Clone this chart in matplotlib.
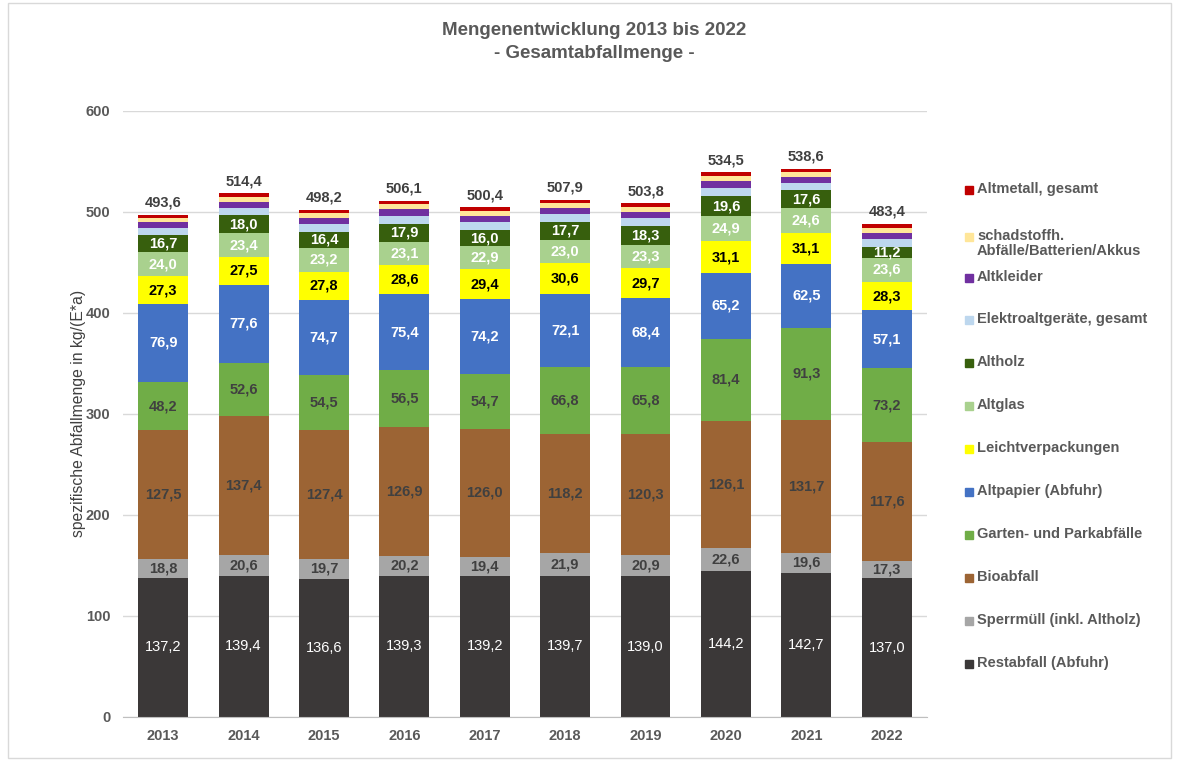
import matplotlib.pyplot as plt
import numpy as np
from matplotlib.patches import Rectangle

plt.rcParams['font.family'] = ['Liberation Sans', 'DejaVu Sans']

years = ["2013", "2014", "2015", "2016", "2017", "2018", "2019", "2020", "2021", "2022"]

restabfall = [137.2, 139.4, 136.6, 139.3, 139.2, 139.7, 139.0, 144.2, 142.7, 137.0]
sperrmuell = [18.8, 20.6, 19.7, 20.2, 19.4, 21.9, 20.9, 22.6, 19.6, 17.3]
bioabfall = [127.5, 137.4, 127.4, 126.9, 126.0, 118.2, 120.3, 126.1, 131.7, 117.6]
garten = [48.2, 52.6, 54.5, 56.5, 54.7, 66.8, 65.8, 81.4, 91.3, 73.2]
altpapier = [76.9, 77.6, 74.7, 75.4, 74.2, 72.1, 68.4, 65.2, 62.5, 57.1]
lvp = [27.3, 27.5, 27.8, 28.6, 29.4, 30.6, 29.7, 31.1, 31.1, 28.3]
altglas = [24.0, 23.4, 23.2, 23.1, 22.9, 23.0, 23.3, 24.9, 24.6, 23.6]
altholz = [16.7, 18.0, 16.4, 17.9, 16.0, 17.7, 18.3, 19.6, 17.6, 11.2]
# small segments without labels
elektro = [7.0, 7.3, 7.4, 8.0, 7.5, 7.6, 8.0, 8.5, 7.4, 7.5]
altkleider = [5.8, 6.0, 6.0, 6.3, 6.5, 6.1, 6.0, 6.3, 5.8, 6.5]
schadstoff = [4.2, 4.5, 4.6, 4.9, 5.0, 4.7, 5.0, 5.0, 4.5, 4.8]
altmetall = [3.4, 3.7, 3.7, 3.5, 3.5, 3.5, 3.5, 4.0, 3.5, 3.7]
totals = [493.6, 514.4, 498.2, 506.1, 500.4, 507.9, 503.8, 534.5, 538.6, 483.4]

# name, values, colour, label colour, label weight
series = [
    ("Restabfall (Abfuhr)", restabfall, "#3b3838", "white", "normal"),
    ("Sperrmüll (inkl. Altholz)", sperrmuell, "#a6a6a6", "#404040", "bold"),
    ("Bioabfall", bioabfall, "#9c6434", "#404040", "bold"),
    ("Garten- und Parkabfälle", garten, "#70ad47", "#404040", "bold"),
    ("Altpapier (Abfuhr)", altpapier, "#4472c4", "white", "bold"),
    ("Leichtverpackungen", lvp, "#ffff00", "black", "bold"),
    ("Altglas", altglas, "#a9d18e", "white", "bold"),
    ("Altholz", altholz, "#375f0d", "white", "bold"),
    ("Elektroaltgeräte, gesamt", elektro, "#bdd7ee", None, None),
    ("Altkleider", altkleider, "#7030a0", None, None),
    ("schadstoffh.\nAbfälle/Batterien/Akkus", schadstoff, "#ffe699", None, None),
    ("Altmetall, gesamt", altmetall, "#c00000", None, None),
]

grey = "#595959"
fig = plt.figure(figsize=(11.77, 7.61), dpi=100)
ax = fig.add_axes([0.1045, 0.0582, 0.683, 0.7964])

x = np.arange(len(years))
bottom = np.zeros(len(years))
for name, vals, col, tcol, tw in series:
    vals = np.array(vals)
    ax.bar(x, vals, 0.62, bottom=bottom, color=col, zorder=2)
    if tcol is not None:
        for xi, b, v in zip(x, bottom, vals):
            ax.text(xi, b + v / 2, f"{v:.1f}".replace(".", ","), ha="center", va="center",
                    color=tcol, fontsize=10.5, fontweight=tw, zorder=3)
    bottom += vals

for xi, top, t in zip(x, bottom, totals):
    ax.text(xi, top + 5, f"{t:.1f}".replace(".", ","), ha="center", va="bottom",
            color="#404040", fontsize=10.5, fontweight="bold")

ax.set_xlim(-0.5, len(years) - 0.5)
ax.set_ylim(0, 600)
ax.set_yticks(range(0, 601, 100))
ax.set_xticks(x)
ax.set_xticklabels(years)
ax.yaxis.grid(True, color="#d9d9d9", linewidth=1, zorder=0)
ax.set_axisbelow(True)
for s in ["top", "right", "left"]:
    ax.spines[s].set_visible(False)
ax.spines["bottom"].set_color("#bfbfbf")
ax.tick_params(length=0, labelsize=10.5, labelcolor=grey, pad=9)
for lab in ax.get_xticklabels() + ax.get_yticklabels():
    lab.set_fontweight("bold")
ax.set_ylabel("spezifische Abfallmenge in kg/(E*a)", fontsize=11.3,
              color="#404040", labelpad=0)

fig.text(0.505, 0.960, "Mengenentwicklung 2013 bis 2022", ha="center", va="center",
         fontsize=13.5, fontweight="bold", color=grey)
fig.text(0.505, 0.930, "- Gesamtabfallmenge -", ha="center", va="center",
         fontsize=13.5, fontweight="bold", color=grey)

# legend, top entry first
leg_y = [190, 237, 278, 320, 363, 406, 449, 492, 535, 578, 621, 664]
for (name, vals, col, tcol, tw), py in zip(series[::-1], leg_y):
    fy = 1 - py / 761
    fig.patches.append(Rectangle((965 / 1177, fy - 4 / 761), 8 / 1177, 8 / 761,
                                 transform=fig.transFigure, color=col))
    fig.text(977 / 1177, fy + 8 / 761, name, ha="left", va="top", fontsize=10.5,
             fontweight="bold", color=grey, linespacing=1.1)

fig.patches.append(Rectangle((0.007, 0.004), 0.988, 0.992, transform=fig.transFigure,
                             fill=False, edgecolor="#d9d9d9", linewidth=1))

fig.savefig("out.png", dpi=100)
